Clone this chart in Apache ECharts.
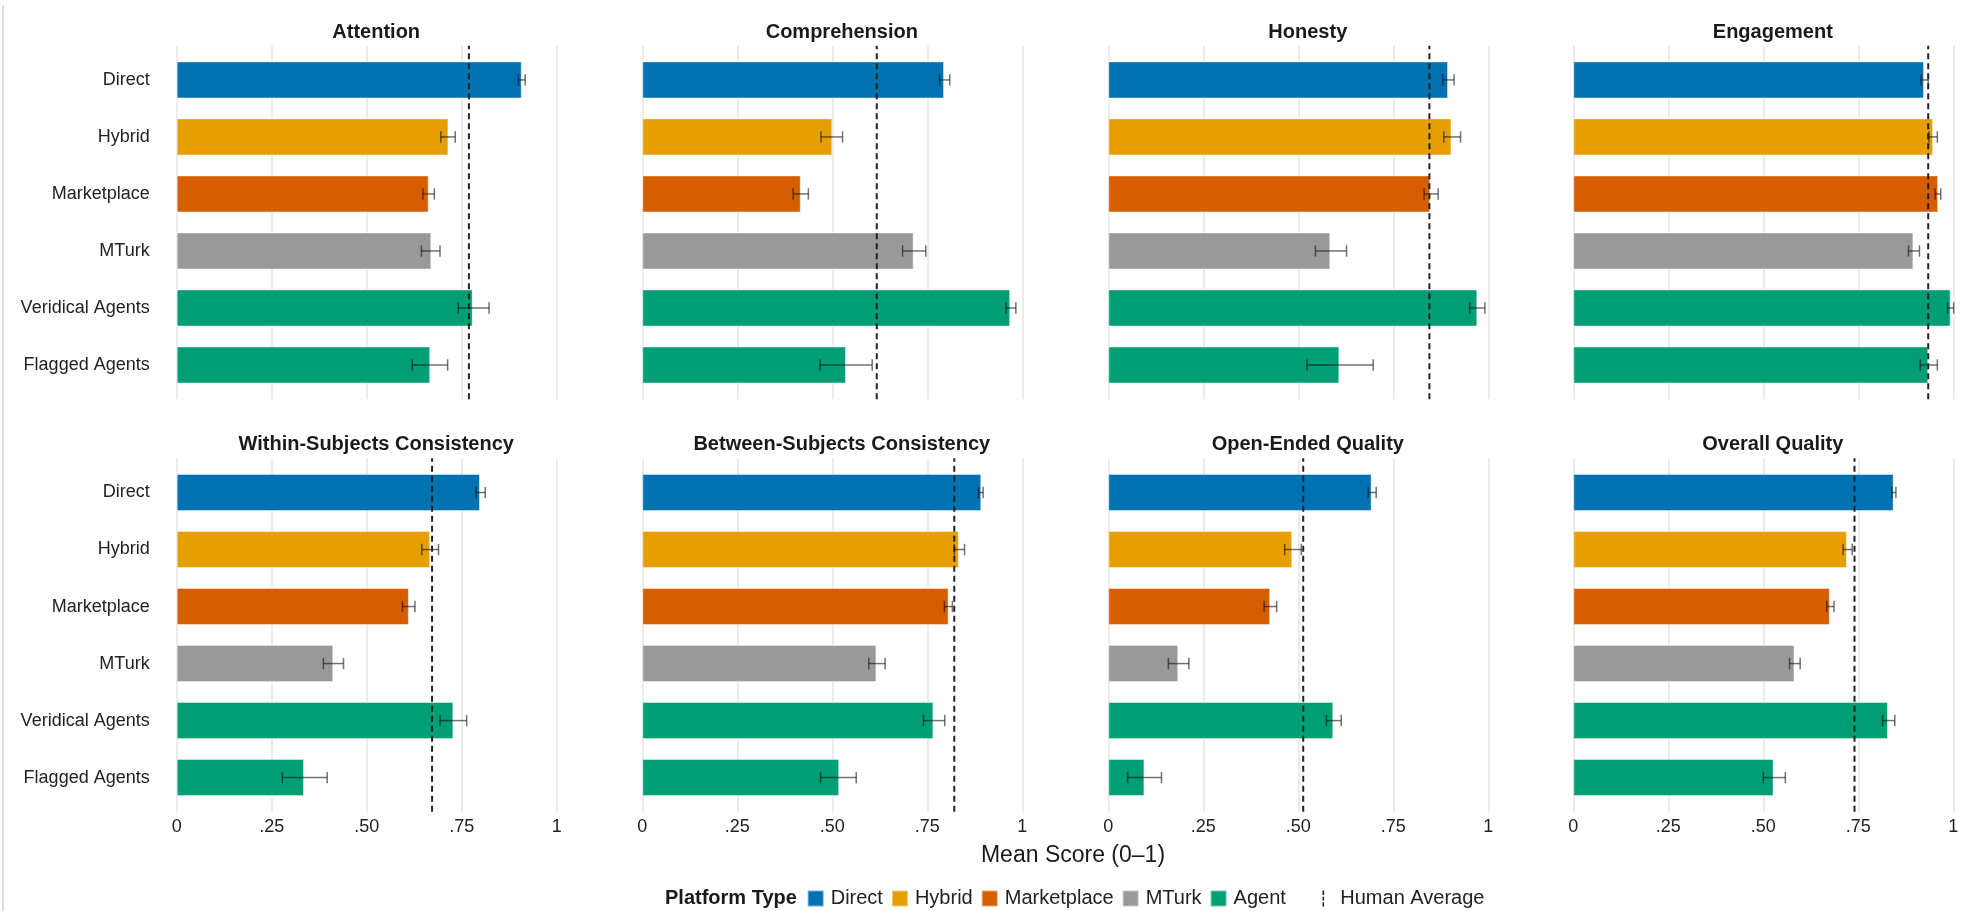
<!DOCTYPE html>
<html>
<head>
<meta charset="utf-8">
<script src="https://cdn.jsdelivr.net/npm/echarts@6/dist/echarts.min.js"></script>
<style>
html,body{margin:0;padding:0;background:#ffffff;}
#chart{width:1973px;height:911px;}
</style>
</head>
<body>
<div id="chart"></div>
<script>
// ---------------- DATA ----------------
const categories = ['Direct', 'Hybrid', 'Marketplace', 'MTurk', 'Veridical Agents', 'Flagged Agents'];
const categoryPlatform = ['Direct', 'Hybrid', 'Marketplace', 'MTurk', 'Agent', 'Agent'];
const platforms = ['Direct', 'Hybrid', 'Marketplace', 'MTurk', 'Agent'];
const panelTitles = ['Attention', 'Comprehension', 'Honesty', 'Engagement',
  'Within-Subjects Consistency', 'Between-Subjects Consistency', 'Open-Ended Quality', 'Overall Quality'];
const tickValues = [0, 0.25, 0.5, 0.75, 1];
const tickLabels = ['0', '.25', '.50', '.75', '1'];

const attentionMean = [0.908, 0.715, 0.663, 0.670, 0.779, 0.667];
const attentionLow  = [0.899, 0.695, 0.648, 0.644, 0.741, 0.620];
const attentionHigh = [0.917, 0.733, 0.678, 0.693, 0.822, 0.713];

const comprehensionMean = [0.794, 0.500, 0.417, 0.714, 0.968, 0.536];
const comprehensionLow  = [0.782, 0.470, 0.397, 0.685, 0.957, 0.468];
const comprehensionHigh = [0.809, 0.527, 0.437, 0.746, 0.983, 0.605];

const honestyMean = [0.894, 0.903, 0.847, 0.584, 0.971, 0.608];
const honestyLow  = [0.880, 0.883, 0.831, 0.545, 0.951, 0.523];
const honestyHigh = [0.910, 0.927, 0.868, 0.627, 0.991, 0.697];

const engagementMean = [0.923, 0.947, 0.960, 0.895, 0.993, 0.934];
const engagementLow  = [0.915, 0.936, 0.952, 0.882, 0.985, 0.913];
const engagementHigh = [0.934, 0.958, 0.967, 0.911, 1.001, 0.958];

const withinMean = [0.798, 0.667, 0.611, 0.412, 0.728, 0.335];
const withinLow  = [0.788, 0.645, 0.594, 0.386, 0.693, 0.278];
const withinHigh = [0.812, 0.689, 0.627, 0.439, 0.763, 0.396];

const betweenMean = [0.892, 0.833, 0.806, 0.616, 0.766, 0.518];
const betweenLow  = [0.885, 0.821, 0.795, 0.596, 0.740, 0.469];
const betweenHigh = [0.897, 0.848, 0.816, 0.639, 0.796, 0.563];

const openEndedMean = [0.693, 0.484, 0.426, 0.184, 0.592, 0.095];
const openEndedLow  = [0.684, 0.464, 0.410, 0.158, 0.574, 0.051];
const openEndedHigh = [0.705, 0.508, 0.443, 0.212, 0.613, 0.140];

const overallMean = [0.843, 0.720, 0.675, 0.582, 0.828, 0.527];
const overallLow  = [0.838, 0.710, 0.667, 0.569, 0.814, 0.500];
const overallHigh = [0.849, 0.734, 0.686, 0.597, 0.846, 0.558];

const humanAverage = [0.769, 0.617, 0.845, 0.934, 0.672, 0.821, 0.513, 0.740];

// ---------------- STYLE / LAYOUT ----------------
const platformColors = {Direct: '#0072B2', Hybrid: '#E69F00', Marketplace: '#D55E00', MTurk: '#999999', Agent: '#009E73'};
const FONT = "'Liberation Sans', Arial, Helvetica, sans-serif";
const colLeft = [176.7, 642.3, 1108.3, 1573.3];
const panelWidth = 380;
const rowTop = [45.7, 458.3];
const rowHeight = 353.5;

const means = [attentionMean, comprehensionMean, honestyMean, engagementMean, withinMean, betweenMean, openEndedMean, overallMean];
const lows = [attentionLow, comprehensionLow, honestyLow, engagementLow, withinLow, betweenLow, openEndedLow, overallLow];
const highs = [attentionHigh, comprehensionHigh, honestyHigh, engagementHigh, withinHigh, betweenHigh, openEndedHigh, overallHigh];

const grid = [], xAxis = [], yAxis = [], series = [], graphic = [];

function errorBarRender(params, api) {
  const yi = api.value(0);
  const p1 = api.coord([api.value(1), yi]);
  const p2 = api.coord([api.value(2), yi]);
  const h = api.size([0, 1])[1] * 0.1;
  const st = {stroke: 'rgba(20,20,20,0.6)', lineWidth: 1.5, fill: null};
  return {
    type: 'group',
    children: [
      {type: 'line', shape: {x1: p1[0], y1: p1[1], x2: p2[0], y2: p2[1]}, style: st},
      {type: 'line', shape: {x1: p1[0], y1: p1[1] - h, x2: p1[0], y2: p1[1] + h}, style: st},
      {type: 'line', shape: {x1: p2[0], y1: p2[1] - h, x2: p2[0], y2: p2[1] + h}, style: st}
    ]
  };
}

for (let i = 0; i < 8; i++) {
  const col = i % 4, row = Math.floor(i / 4);
  const left = colLeft[col], top = rowTop[row];
  const band = rowHeight / 6.2;
  // tall grid (gridlines + human average)
  grid.push({left: left, top: top, width: panelWidth, height: rowHeight, containLabel: false});
  // bar grid (category bands)
  grid.push({left: left, top: top + 0.1 * band, width: panelWidth, height: 6 * band, containLabel: false});

  xAxis.push({
    gridIndex: 2 * i, type: 'value', min: 0, max: 1, interval: 0.25,
    axisLine: {show: false}, axisTick: {show: false},
    splitLine: {show: true, lineStyle: {color: '#e6e6e6', width: 1.5}},
    axisLabel: {show: row === 1, margin: 6, fontSize: 18, color: '#222', fontFamily: FONT,
      formatter: v => tickLabels[tickValues.indexOf(Math.round(v * 4) / 4)]}
  });
  yAxis.push({gridIndex: 2 * i, type: 'value', min: 0, max: 1, show: false});

  xAxis.push({gridIndex: 2 * i + 1, type: 'value', min: 0, max: 1, show: false});
  yAxis.push({
    gridIndex: 2 * i + 1, type: 'category', data: categories, inverse: true,
    axisLine: {show: false}, axisTick: {show: false}, splitLine: {show: false},
    axisLabel: {show: col === 0, fontSize: 18, color: '#222', margin: 27, fontFamily: FONT}
  });

  platforms.forEach(p => {
    series.push({
      type: 'bar', name: p, xAxisIndex: 2 * i + 1, yAxisIndex: 2 * i + 1,
      stack: 'panel' + i, barWidth: '65%',
      data: means[i].map((v, k) => categoryPlatform[k] === p ? v : '-'),
      itemStyle: {color: platformColors[p], borderColor: 'rgba(255,255,255,0.45)', borderWidth: 1},
      emphasis: {disabled: true}, silent: true, z: 2
    });
  });

  series.push({
    type: 'custom', name: 'err' + i, xAxisIndex: 2 * i + 1, yAxisIndex: 2 * i + 1,
    renderItem: errorBarRender,
    data: categories.map((c, k) => [k, lows[i][k], highs[i][k]]),
    encode: {x: [1, 2], y: 0}, silent: true, z: 4
  });

  series.push({
    type: 'line', name: 'Human Average', xAxisIndex: 2 * i, yAxisIndex: 2 * i,
    data: [[humanAverage[i], 0], [humanAverage[i], 1]],
    symbol: 'none', color: '#222',
    lineStyle: {color: '#222', width: 2, type: [6, 4]},
    emphasis: {disabled: true}, silent: true, z: 5
  });

  graphic.push({
    type: 'text', x: left + panelWidth / 2 + 9.5, y: row === 0 ? 32.3 : 444,
    style: {text: panelTitles[i], textAlign: 'center', textVerticalAlign: 'middle',
      font: 'bold 20px ' + FONT, fill: '#1a1a1a'}
  });
}

graphic.push({
  type: 'text', x: 1073, y: 856,
  style: {text: 'Mean Score (0–1)', textAlign: 'center', textVerticalAlign: 'middle',
    font: '23px ' + FONT, fill: '#1a1a1a'}
});
graphic.push({
  type: 'text', x: 665, y: 898.5,
  style: {text: 'Platform Type', textAlign: 'left', textVerticalAlign: 'middle',
    font: 'bold 20px ' + FONT, fill: '#1a1a1a'}
});
graphic.push({
  type: 'line', shape: {x1: 3, y1: 5, x2: 3, y2: 911},
  style: {stroke: '#c8c8c8', lineWidth: 1.2}
});

const dashIcon = 'path://M0,0h0.01v0.01h-0.01z M16,16h0.01v0.01h-0.01z M7.2,0h1.6v4.5h-1.6z M7.2,6.2h1.6v3.8h-1.6z M7.2,11.7h1.6v4.3h-1.6z';

const option = {
  animation: false,
  backgroundColor: '#ffffff',
  textStyle: {fontFamily: FONT},
  grid: grid, xAxis: xAxis, yAxis: yAxis, series: series, graphic: graphic,
  legend: [
    {
      data: platforms, left: 806.7, top: 888.5, padding: 0, itemWidth: 16, itemHeight: 16, itemGap: 8,
      icon: 'rect', selectedMode: false,
      textStyle: {fontSize: 20, color: '#222', fontFamily: FONT, padding: [0, 0, 0, 2], lineHeight: 20}
    },
    {
      data: [{name: 'Human Average', icon: dashIcon, itemStyle: {color: '#222'}}],
      left: 1315.3, top: 888.5, padding: 0, itemWidth: 16, itemHeight: 16, selectedMode: false,
      textStyle: {fontSize: 20, color: '#222', fontFamily: FONT, padding: [0, 0, 0, 4], lineHeight: 20}
    }
  ]
};

const chart = echarts.init(document.getElementById('chart'), null, {renderer: 'canvas'});
chart.setOption(option);
</script>
</body>
</html>
